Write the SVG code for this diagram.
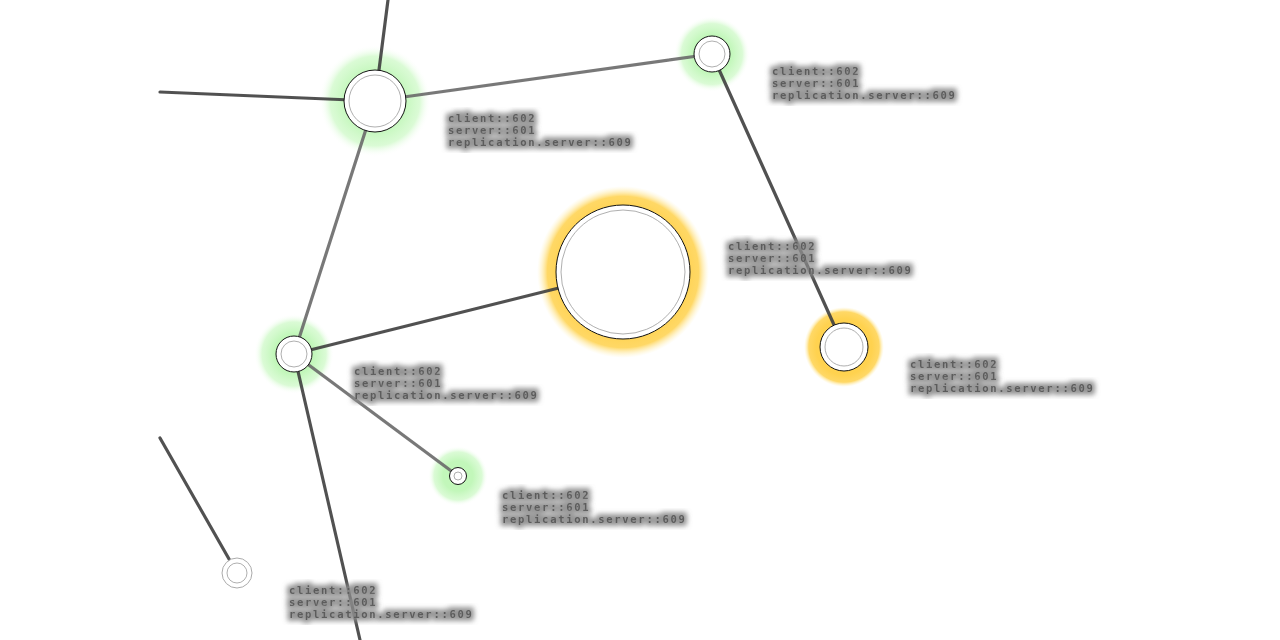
<svg xmlns="http://www.w3.org/2000/svg" width="1280" height="640" viewBox="0 0 1280 640">
<defs>
<radialGradient id="gGreen"><stop offset="0.5" stop-color="#c2f7ba" stop-opacity="1"/><stop offset="0.8" stop-color="#d4face" stop-opacity="0.85"/><stop offset="1" stop-color="#ffffff" stop-opacity="0"/></radialGradient>
<radialGradient id="gYellow"><stop offset="0.7" stop-color="#ffd24f"/><stop offset="0.88" stop-color="#ffd866"/><stop offset="1" stop-color="#fff3c0" stop-opacity="0"/></radialGradient>
<filter id="halo" x="-10%" y="-40%" width="120%" height="180%"><feMorphology in="SourceAlpha" operator="dilate" radius="2.5" result="d"/><feGaussianBlur in="d" stdDeviation="2.5" result="b"/><feFlood flood-color="#8a8a8a" flood-opacity="0.9"/><feComposite in2="b" operator="in" result="h"/><feMerge><feMergeNode in="h"/><feMergeNode in="SourceGraphic"/></feMerge></filter>
<filter id="soft"><feGaussianBlur stdDeviation="0.6"/></filter>
</defs>
<style>
.edge{stroke:#3f3f3f;stroke-width:3.2;stroke-linecap:round;fill:none;opacity:0.9}
.lt{stroke:#6a6a6a}
.outer{fill:#fff;stroke:#111;stroke-width:1}
.inner{fill:none;stroke:#9a9a9a;stroke-width:0.8}
.lbl{font-family:"DejaVu Sans Mono","Liberation Mono",monospace;font-size:10.5px;letter-spacing:1.7px;font-weight:bold;fill:#5c5c5c;filter:url(#halo)}
</style>
<rect width="1280" height="640" fill="#fff"/>
<g id="glows">
<circle cx="375" cy="101" r="56" fill="url(#gGreen)"/>
<circle cx="712" cy="54" r="38" fill="url(#gGreen)"/>
<circle cx="294" cy="354" r="40" fill="url(#gGreen)"/>
<circle cx="458" cy="476" r="30" fill="url(#gGreen)"/>
<circle cx="623" cy="272" r="86" fill="url(#gYellow)"/>
<circle cx="844" cy="347" r="40" fill="url(#gYellow)"/>
</g>
<g id="connectors" filter="url(#soft)">
<line class="edge" x1="375" y1="101" x2="388" y2="0"/>
<line class="edge" x1="375" y1="101" x2="160" y2="92"/>
<line class="edge lt" x1="375" y1="101" x2="712" y2="54"/>
<line class="edge lt" x1="375" y1="101" x2="294" y2="354"/>
<line class="edge" x1="712" y1="54" x2="844" y2="347"/>
<line class="edge" x1="294" y1="354" x2="623" y2="272"/>
<line class="edge lt" x1="294" y1="354" x2="458" y2="476"/>
<line class="edge" x1="294" y1="354" x2="360" y2="640"/>
<line class="edge" x1="237" y1="573" x2="160" y2="438"/>
</g>
<g id="nodeA"><circle class="outer" cx="375" cy="101" r="31"/><circle class="inner" cx="375" cy="101" r="26"/>
<text class="lbl" x="448" y="122">client::602</text><text class="lbl" x="448" y="134">server::601</text><text class="lbl" x="448" y="146">replication.server::609</text></g>
<g id="nodeB"><circle class="outer" cx="712" cy="54" r="18"/><circle class="inner" cx="712" cy="54" r="13"/>
<text class="lbl" x="772" y="75">client::602</text><text class="lbl" x="772" y="87">server::601</text><text class="lbl" x="772" y="99">replication.server::609</text></g>
<g id="nodeC"><circle class="outer" cx="623" cy="272" r="67"/><circle class="inner" cx="623" cy="272" r="62"/>
<text class="lbl" x="728" y="250">client::602</text><text class="lbl" x="728" y="262">server::601</text><text class="lbl" x="728" y="274">replication.server::609</text></g>
<g id="nodeD"><circle class="outer" cx="844" cy="347" r="24"/><circle class="inner" cx="844" cy="347" r="19"/>
<text class="lbl" x="910" y="368">client::602</text><text class="lbl" x="910" y="380">server::601</text><text class="lbl" x="910" y="392">replication.server::609</text></g>
<g id="nodeE"><circle class="outer" cx="294" cy="354" r="18"/><circle class="inner" cx="294" cy="354" r="13"/>
<text class="lbl" x="354" y="375">client::602</text><text class="lbl" x="354" y="387">server::601</text><text class="lbl" x="354" y="399">replication.server::609</text></g>
<g id="nodeF"><circle class="outer" cx="458" cy="476" r="8.5"/><circle class="inner" cx="458" cy="476" r="4"/>
<text class="lbl" x="502" y="499">client::602</text><text class="lbl" x="502" y="511">server::601</text><text class="lbl" x="502" y="523">replication.server::609</text></g>
<g id="nodeG"><circle cx="237" cy="573" r="15" fill="#fff" stroke="#aaa" stroke-width="1"/><circle class="inner" cx="237" cy="573" r="10" stroke="#777"/>
<text class="lbl" x="289" y="594">client::602</text><text class="lbl" x="289" y="606">server::601</text><text class="lbl" x="289" y="618">replication.server::609</text></g>
</svg>
